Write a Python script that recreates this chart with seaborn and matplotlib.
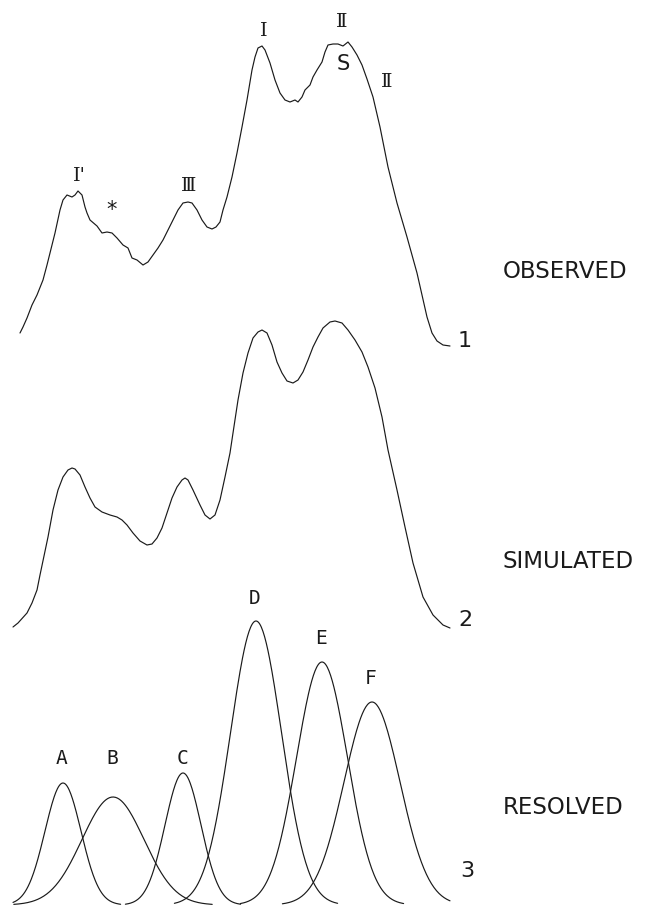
import numpy as np
import pandas as pd
import matplotlib
matplotlib.use("Agg")
import matplotlib.pyplot as plt
import seaborn as sns

# ---------------- data ----------------
# channel positions (horizontal, arbitrary units) and intensities above each trace's baseline
obs_x = [20, 23, 27, 32, 37, 43, 47, 50, 55, 60, 63, 67, 72, 75, 78, 82, 85, 87, 90, 97,
         102, 107, 112, 117, 123, 128, 132, 137, 143, 148, 153, 158, 163, 168, 173, 178,
         183, 188, 192, 197, 202, 207, 212, 216, 220, 223, 227, 232, 237, 242, 247, 252,
         255, 258, 262, 265, 270, 275, 280, 285, 290, 295, 298, 302, 305, 310, 313, 317,
         322, 325, 328, 333, 338, 343, 348, 352, 357, 362, 367, 373, 380, 388, 397, 407,
         412, 417, 422, 427, 432, 437, 443, 450]
obs_y = [12, 18, 27, 40, 50, 65, 80, 92, 112, 135, 145, 150, 148, 150, 154, 150, 138, 132,
         125, 119, 112, 113, 112, 107, 100, 97, 87, 85, 80, 83, 90, 97, 105, 115, 125, 135,
         142, 143, 142, 135, 125, 118, 116, 118, 123, 135, 148, 168, 192, 218, 245, 275,
         288, 297, 299, 295, 282, 265, 252, 245, 243, 245, 243, 248, 255, 260, 268, 275,
         283, 293, 300, 301, 301, 299, 303, 298, 290, 280, 266, 248, 218, 178, 142, 108,
         90, 72, 50, 28, 12, 4, 0, -1]

sim_x = [13, 18, 27, 32, 37, 40, 48, 53, 58, 63, 68, 72, 75, 80, 85, 90, 95, 102, 110,
         117, 122, 127, 133, 140, 147, 152, 157, 162, 167, 172, 177, 182, 185, 188, 193,
         200, 205, 210, 215, 220, 225, 230, 233, 238, 243, 248, 253, 258, 262, 267, 272,
         277, 282, 287, 293, 298, 303, 308, 313, 318, 323, 330, 335, 342, 348, 355, 362,
         368, 375, 382, 388, 397, 405, 413, 423, 433, 443, 450]
sim_y = [1, 5, 15, 25, 38, 53, 91, 118, 138, 151, 158, 160, 159, 153, 141, 130, 121, 116,
         113, 111, 108, 103, 95, 87, 83, 84, 90, 100, 115, 130, 141, 148, 150, 148, 138,
         123, 113, 109, 113, 128, 151, 175, 195, 228, 255, 275, 290, 296, 298, 295, 283,
         266, 255, 247, 245, 248, 256, 268, 281, 291, 300, 306, 307, 305, 298, 288, 276,
         261, 240, 211, 178, 138, 101, 65, 31, 13, 3, 0]

comp_labels = ["A", "B", "C", "D", "E", "F"]
comp_center = [63, 113, 183, 256, 322, 372]
comp_height = [122, 108, 132, 284, 243, 203]
comp_width = [18, 31, 18, 25.5, 25.5, 28]

trace_names = ["OBSERVED", "SIMULATED", "RESOLVED"]
trace_numbers = ["1", "2", "3"]

obs_marks = ["I'", "*", "Ⅲ", "I", "Ⅱ", "S", "Ⅱ"]

# ---------------- layout ----------------
W, H = 653, 907
base_obs = H - 345
base_sim = H - 628
base_res = H - 905
ink = "#1a1a1a"
lw = 0.85

sns.set_theme(style="white")
plt.rcParams["font.family"] = ["DejaVu Sans"]

fig = plt.figure(figsize=(W / 100, H / 100), dpi=100)
ax = fig.add_axes([0, 0, 1, 1])
ax.set_xlim(0, W)
ax.set_ylim(0, H)
ax.axis("off")

# observed
df_obs = pd.DataFrame({"x": obs_x, "y": np.array(obs_y) + base_obs})
sns.lineplot(data=df_obs, x="x", y="y", ax=ax, color=ink, lw=lw, sort=False, estimator=None)

# simulated
df_sim = pd.DataFrame({"x": sim_x, "y": np.array(sim_y) + base_sim})
sns.lineplot(data=df_sim, x="x", y="y", ax=ax, color=ink, lw=lw, sort=False, estimator=None)

# resolved components
x_lo, x_hi = 13, 450
small_row = base_res + 146  # common label row for the small components
for lab, c, h, s in zip(comp_labels, comp_center, comp_height, comp_width):
    xs = np.linspace(max(x_lo, c - 3.2 * s), min(x_hi, c + 3.2 * s), 200)
    ys = h * np.exp(-0.5 * ((xs - c) / s) ** 2) + base_res
    sns.lineplot(x=xs, y=ys, ax=ax, color=ink, lw=lw, sort=False, estimator=None)
    ly = base_res + h + 23 if h > 150 else small_row
    ax.text(c - 1, ly, lab, ha="center", va="center",
            fontsize=14, color=ink, family=["DejaVu Sans Mono"])

# labels on the observed trace
mark_pos = [(79, 176), (112, 210), (189, 186), (264, 31), (342, 22), (343, 64), (387, 82)]
for txt, (px, py) in zip(obs_marks, mark_pos):
    fam = ["DejaVu Sans"] if txt in ("S", "*") else ["DejaVu Serif", "DejaVu Sans"]
    size = 15 if txt in ("S", "*") else 14
    ax.text(px, H - py, txt, ha="center", va="center", fontsize=size, color=ink,
            family=fam)

# trace names and numbers on the right
name_y = [272, 562, 808]
num_pos = [(465, 341), (465, 620), (467, 871)]
for name, ny, num, (nx, nyy) in zip(trace_names, name_y, trace_numbers, num_pos):
    ax.text(503, H - ny, name, ha="left", va="center", fontsize=16.5, color=ink,
            family=["DejaVu Sans"])
    ax.text(nx, H - nyy, num, ha="center", va="center", fontsize=16, color=ink,
            family=["DejaVu Sans"])

fig.savefig("out.png", dpi=100, facecolor="white")
